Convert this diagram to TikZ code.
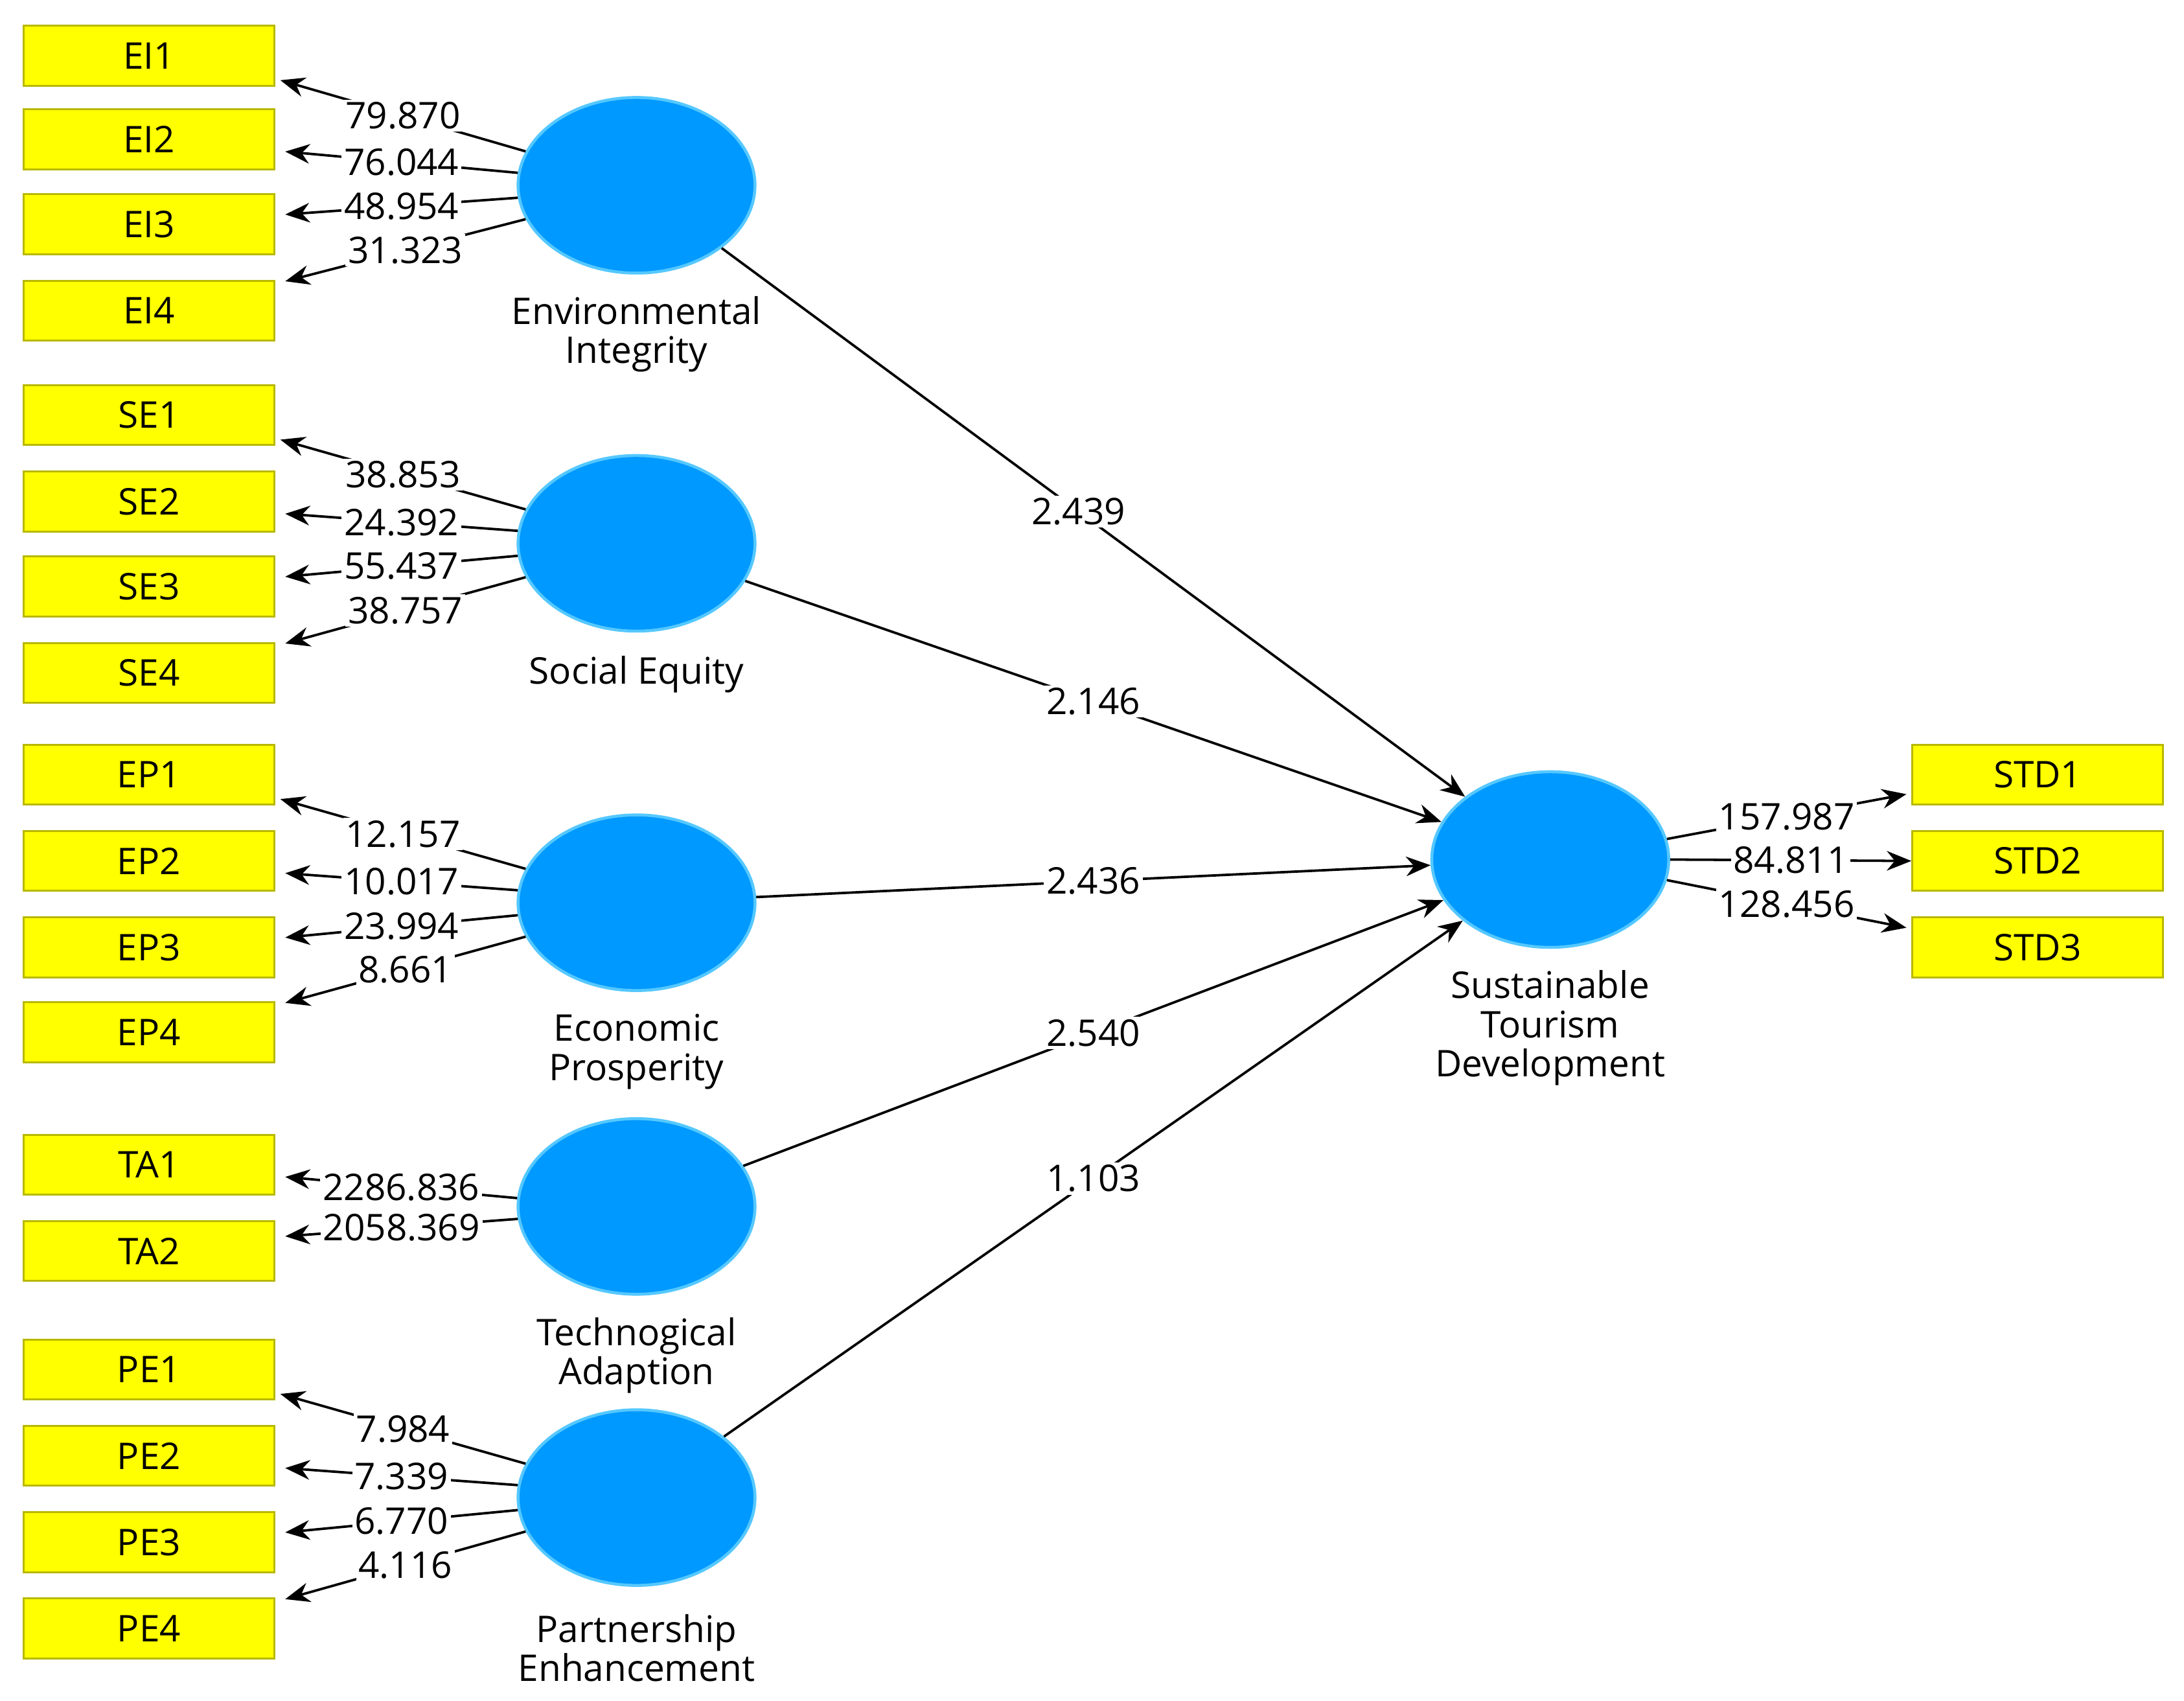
\documentclass[tikz,border=0pt]{standalone}
\usepackage{fontspec}
\setmainfont{Open Sans}
\usetikzlibrary{arrows.meta,shapes.geometric}
\definecolor{boxy}{HTML}{FFFF00}
\definecolor{boxb}{HTML}{B8B800}
\definecolor{lv}{HTML}{0099FF}
\definecolor{lvb}{HTML}{55C8FF}
\begin{document}
\begin{tikzpicture}[x=0.01cm,y=-0.01cm,
  ind/.style={draw=boxb,fill=boxy,minimum width=1.8cm,minimum height=0.43cm,inner sep=0pt,font=\fontsize{7.5}{9}\selectfont},
  lat/.style={ellipse,draw=lvb,line width=0.6pt,fill=lv,minimum width=1.7cm,minimum height=1.26cm,inner sep=0pt},
  lab/.style={align=center,font=\fontsize{7.5}{8}\selectfont},
  arr/.style={-{Stealth[length=5pt,width=4pt]},line width=0.5pt},
  num/.style={fill=white,inner sep=0.5pt,font=\fontsize{7.5}{9}\selectfont}]
\useasboundingbox (0,0) rectangle (1568,1221);
\fill[white] (0,0) rectangle (1568,1221);
% latent
\node[lat] (EI) at (457,133) {};
\node[lat] (SE) at (457,390) {};
\node[lat] (EP) at (457,648) {};
\node[lat] (TA) at (457,866) {};
\node[lat] (PE) at (457,1075) {};
\node[lat] (STD) at (1113,617) {};
\node[lab] (lEI) at (457,240) {Environmental\\Integrity};
\node[lab] (lSE) at (457,484) {Social Equity};
\node[lab] (lEP) at (457,755) {Economic\\Prosperity};
\node[lab] (lTA) at (457,973) {Technogical\\Adaption};
\node[lab] (lPE) at (457,1183) {Partnership\\Enhancement};
\node[lab] (lSTD) at (1113,738) {Sustainable\\Tourism\\Development};
% indicators
\foreach \n/\y in {EI1/40,EI2/100,EI3/161,EI4/223,SE1/298,SE2/360,SE3/421,SE4/483,EP1/556,EP2/618,EP3/680,EP4/741,TA1/836,TA2/898,PE1/983,PE2/1045,PE3/1107,PE4/1169}
  \node[ind] (\n) at (107,\y) {\n};
\foreach \n/\y in {STD1/556,STD2/618,STD3/680}
  \node[ind] (\n) at (1463,\y) {\n};
% outer loadings
\foreach \L/\a/\b/\c/\d in {EI/79.870/76.044/48.954/31.323,SE/38.853/24.392/55.437/38.757,EP/12.157/10.017/23.994/8.661,PE/7.984/7.339/6.770/4.116}{
  \draw[arr] (\L.163) -- node[num]{\a} ([xshift=1pt,yshift=-5pt]\L1.east);
  \draw[arr] (\L.174) -- node[num]{\b} ([xshift=2pt,yshift=-2.5pt]\L2.east);
  \draw[arr] (\L.186) -- node[num]{\c} ([xshift=2pt,yshift=2pt]\L3.east);
  \draw[arr] (\L.197) -- node[num]{\d} ([xshift=2pt,yshift=6pt]\L4.east);
}
\draw[arr] (TA.176) -- node[num]{2286.836} ([xshift=2pt,yshift=-2.5pt]TA1.east);
\draw[arr] (TA.186) -- node[num]{2058.369} ([xshift=2pt,yshift=3pt]TA2.east);
% STD loadings
\draw[arr] (STD.10) -- node[num]{157.987} ([xshift=-1pt,yshift=-4pt]STD1.west);
\draw[arr] (STD.0) -- node[num]{84.811} (STD2.west);
\draw[arr] (STD.-10) -- node[num]{128.456} ([xshift=-1pt,yshift=4pt]STD3.west);
% structural
\draw[arr] (EI) -- node[num,pos=0.48]{2.439} (STD);
\draw[arr] (SE) -- node[num,pos=0.5]{2.146} (STD);
\draw[arr] (EP) -- node[num,pos=0.5]{2.436} (STD);
\draw[arr] (TA) -- node[num,pos=0.5]{2.540} (STD);
\draw[arr] (PE) -- node[num,pos=0.5]{1.103} (STD);
\end{tikzpicture}
\end{document}
